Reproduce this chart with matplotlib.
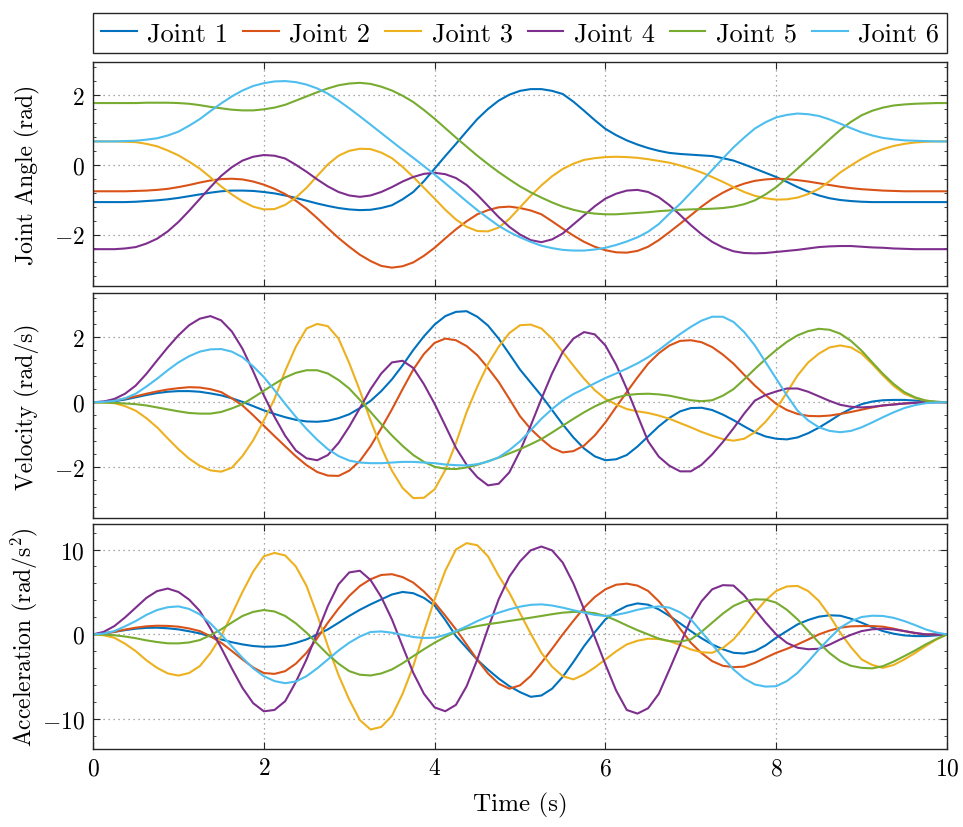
import numpy as np
import matplotlib
matplotlib.use("Agg")
import matplotlib.pyplot as plt
from matplotlib.ticker import AutoMinorLocator, MultipleLocator

# MATLAB default line colours
COLORS = ["#0072BD", "#D95319", "#EDB120", "#7E2F8E", "#77AC30", "#4DBEEE"]
JOINTS = ["Joint 1", "Joint 2", "Joint 3", "Joint 4", "Joint 5", "Joint 6"]

# sample times (s), read every 0.125 s
time = np.linspace(0, 10, 81)

# joint angle (rad), one row per second
angle_j1 = [-1.07, -1.07, -1.07, -1.07, -1.06, -1.04, -1.02, -.99,
            -.95, -.90, -.85, -.80, -.76, -.74, -.74, -.75,
            -.78, -.82, -.88, -.95, -1.03, -1.11, -1.18, -1.24,
            -1.28, -1.30, -1.29, -1.24, -1.16, -.99, -.78, -.47,
            -.11, .25, .60, .96, 1.31, 1.60, 1.84, 2.01,
            2.12, 2.17, 2.17, 2.12, 2.03, 1.81, 1.55, 1.28,
            1.03, .85, .70, .58, .48, .40, .34, .31,
            .29, .27, .25, .19, .12, .01, -.11, -.23,
            -.35, -.49, -.64, -.77, -.88, -.96, -1.01, -1.04,
            -1.06, -1.07, -1.07, -1.07, -1.07, -1.07, -1.07, -1.07,
            -1.07]
angle_j2 = [-.76, -.76, -.76, -.76, -.75, -.74, -.72, -.69,
            -.64, -.58, -.51, -.45, -.41, -.40, -.42, -.48,
            -.57, -.69, -.84, -1.03, -1.26, -1.53, -1.82, -2.10,
            -2.35, -2.58, -2.76, -2.90, -2.95, -2.91, -2.80, -2.61,
            -2.38, -2.11, -1.85, -1.62, -1.42, -1.30, -1.22, -1.20,
            -1.24, -1.31, -1.42, -1.62, -1.83, -2.03, -2.21, -2.35,
            -2.45, -2.51, -2.52, -2.47, -2.35, -2.16, -1.93, -1.69,
            -1.45, -1.20, -.98, -.80, -.65, -.54, -.46, -.42,
            -.40, -.41, -.44, -.48, -.53, -.58, -.63, -.67,
            -.70, -.72, -.74, -.75, -.76, -.76, -.76, -.76,
            -.76]
angle_j3 = [.67, .67, .67, .66, .65, .60, .53, .41,
            .27, .09, -.11, -.36, -.62, -.85, -1.05, -1.20,
            -1.28, -1.27, -1.15, -.94, -.66, -.32, .01, .26,
            .40, .46, .45, .35, .19, -.06, -.35, -.66,
            -.97, -1.29, -1.57, -1.78, -1.90, -1.91, -1.80, -1.55,
            -1.22, -.89, -.59, -.33, -.12, .03, .14, .19,
            .22, .23, .22, .20, .16, .11, .06, -.02,
            -.11, -.22, -.35, -.49, -.64, -.78, -.89, -.96,
            -1.00, -.99, -.94, -.84, -.69, -.47, -.22, -.02,
            .17, .33, .45, .54, .60, .64, .66, .67,
            .67]
angle_j4 = [-2.42, -2.42, -2.42, -2.40, -2.36, -2.26, -2.12, -1.91,
            -1.64, -1.32, -.98, -.64, -.32, -.07, .12, .23,
            .28, .26, .18, .00, -.20, -.42, -.62, -.78,
            -.88, -.92, -.88, -.78, -.64, -.48, -.35, -.26,
            -.23, -.27, -.38, -.58, -.86, -1.18, -1.50, -1.78,
            -2.00, -2.16, -2.22, -2.14, -1.97, -1.71, -1.45, -1.19,
            -.97, -.83, -.74, -.72, -.78, -.93, -1.16, -1.44,
            -1.73, -1.99, -2.21, -2.37, -2.48, -2.53, -2.54, -2.53,
            -2.50, -2.47, -2.44, -2.40, -2.36, -2.34, -2.33, -2.33,
            -2.35, -2.37, -2.38, -2.40, -2.41, -2.42, -2.42, -2.42,
            -2.42]
angle_j5 = [1.77, 1.77, 1.77, 1.77, 1.77, 1.78, 1.78, 1.78,
            1.77, 1.75, 1.71, 1.66, 1.62, 1.58, 1.56, 1.56,
            1.59, 1.64, 1.72, 1.84, 1.96, 2.08, 2.19, 2.28,
            2.33, 2.35, 2.32, 2.24, 2.13, 1.98, 1.80, 1.57,
            1.32, 1.05, .78, .52, .26, .02, -.21, -.42,
            -.62, -.79, -.94, -1.08, -1.20, -1.29, -1.36, -1.40,
            -1.42, -1.42, -1.40, -1.38, -1.36, -1.33, -1.31, -1.29,
            -1.28, -1.27, -1.26, -1.24, -1.20, -1.13, -1.02, -.85,
            -.64, -.38, -.11, .17, .45, .73, 1.00, 1.23,
            1.42, 1.55, 1.64, 1.70, 1.73, 1.75, 1.76, 1.77,
            1.77]
angle_j6 = [.67, .67, .67, .68, .69, .72, .76, .84,
            .95, 1.12, 1.31, 1.54, 1.76, 1.96, 2.13, 2.26,
            2.34, 2.39, 2.40, 2.37, 2.30, 2.19, 2.04, 1.84,
            1.62, 1.39, 1.15, .91, .67, .43, .20, -.04,
            -.28, -.53, -.79, -1.05, -1.30, -1.53, -1.75, -1.93,
            -2.08, -2.21, -2.32, -2.39, -2.44, -2.46, -2.46, -2.43,
            -2.38, -2.30, -2.20, -2.08, -1.92, -1.70, -1.40, -1.12,
            -.80, -.48, -.15, .18, .50, .78, 1.04, 1.22,
            1.36, 1.43, 1.47, 1.45, 1.40, 1.30, 1.18, 1.05,
            .93, .84, .77, .73, .70, .69, .68, .67,
            .67]

# joint velocity (rad/s), one row per second
vel_j1 = [0, .01, .03, .08, .15, .22, .28, .32,
          .34, .34, .32, .27, .21, .12, .01, -.12,
          -.25, -.36, -.46, -.54, -.59, -.60, -.57, -.49,
          -.37, -.18, .04, .34, .70, 1.13, 1.60, 2.02,
          2.38, 2.64, 2.77, 2.79, 2.62, 2.35, 1.95, 1.48,
          1.00, .60, .20, -.24, -.68, -1.08, -1.42, -1.66,
          -1.78, -1.75, -1.62, -1.36, -1.05, -.74, -.48, -.28,
          -.18, -.17, -.24, -.38, -.55, -.74, -.92, -1.05,
          -1.12, -1.14, -1.08, -.95, -.78, -.58, -.37, -.20,
          -.06, .02, .06, .07, .07, .05, .03, .01,
          0]
vel_j2 = [0, .01, .05, .11, .18, .26, .33, .39,
          .43, .46, .45, .40, .31, .12, -.10, -.40,
          -.72, -1.04, -1.35, -1.66, -1.93, -2.14, -2.25, -2.26,
          -2.10, -1.80, -1.35, -.80, -.22, .40, 1.00, 1.48,
          1.82, 1.95, 1.90, 1.72, 1.44, 1.05, .62, .10,
          -.43, -.82, -1.13, -1.40, -1.54, -1.50, -1.33, -1.02,
          -.62, -.15, .31, .76, 1.18, 1.50, 1.74, 1.88,
          1.90, 1.84, 1.69, 1.46, 1.18, .84, .51, .22,
          -.05, -.24, -.36, -.42, -.43, -.41, -.36, -.30,
          -.23, -.16, -.10, -.07, -.04, -.02, -.01, 0,
          0]
vel_j3 = [0, -.01, -.03, -.12, -.26, -.49, -.77, -1.11,
          -1.44, -1.73, -1.95, -2.09, -2.13, -2.01, -1.65, -1.17,
          -.56, .10, .96, 1.70, 2.26, 2.40, 2.33, 1.95,
          1.20, .35, -.56, -1.38, -2.10, -2.63, -2.94, -2.93,
          -2.67, -2.08, -1.25, -.30, .48, 1.17, 1.70, 2.12,
          2.36, 2.38, 2.26, 1.95, 1.54, 1.12, .72, .37,
          .10, -.07, -.21, -.28, -.33, -.41, -.51, -.64,
          -.77, -.91, -1.03, -1.13, -1.18, -1.12, -.92, -.60,
          -.21, .30, .82, 1.22, 1.49, 1.68, 1.74, 1.68,
          1.49, 1.17, .82, .50, .26, .13, .05, .01,
          0]
vel_j4 = [0, .02, .10, .26, .51, .87, 1.28, 1.68,
          2.05, 2.36, 2.56, 2.64, 2.51, 2.17, 1.64, .95,
          .21, -.45, -1.03, -1.48, -1.72, -1.78, -1.62, -1.25,
          -.75, -.18, .40, .88, 1.22, 1.27, 1.05, .55,
          -.05, -.72, -1.40, -1.92, -2.30, -2.55, -2.50, -2.15,
          -1.50, -.72, .10, .88, 1.54, 1.95, 2.15, 2.08,
          1.74, 1.15, .41, -.40, -1.20, -1.67, -1.95, -2.12,
          -2.12, -1.92, -1.60, -1.22, -.80, -.35, .05, .22,
          .33, .42, .42, .32, .18, .04, -.08, -.14,
          -.16, -.14, -.10, -.07, -.04, -.02, -.01, 0,
          0]
vel_j5 = [0, -.01, -.02, -.04, -.06, -.10, -.16, -.22,
          -.28, -.33, -.35, -.35, -.30, -.19, -.06, .14,
          .35, .56, .76, .90, .98, .98, .88, .68,
          .42, .07, -.30, -.67, -1.02, -1.34, -1.62, -1.83,
          -1.98, -2.04, -2.05, -2.00, -1.92, -1.81, -1.70, -1.57,
          -1.44, -1.29, -1.13, -.93, -.72, -.51, -.31, -.13,
          .02, .14, .22, .25, .26, .24, .20, .13,
          .06, .03, .06, .20, .40, .70, 1.02, 1.32,
          1.60, 1.85, 2.05, 2.18, 2.25, 2.22, 2.10, 1.88,
          1.58, 1.22, .87, .56, .31, .15, .05, .01,
          0]
vel_j6 = [0, .01, .04, .12, .26, .48, .72, .98,
          1.22, 1.41, 1.55, 1.62, 1.63, 1.55, 1.38, 1.10,
          .77, .37, -.05, -.45, -.82, -1.15, -1.44, -1.65,
          -1.79, -1.85, -1.87, -1.87, -1.85, -1.83, -1.83, -1.85,
          -1.87, -1.91, -1.93, -1.94, -1.90, -1.82, -1.69, -1.47,
          -1.20, -.86, -.51, -.21, .05, .25, .41, .58,
          .74, .88, 1.03, 1.19, 1.38, 1.60, 1.85, 2.09,
          2.31, 2.50, 2.62, 2.62, 2.46, 2.15, 1.74, 1.23,
          .72, .21, -.26, -.56, -.77, -.88, -.92, -.88,
          -.77, -.62, -.46, -.31, -.18, -.09, -.03, -.01,
          0]

# joint acceleration (rad/s^2), one row per second
acc_j1 = [0, .12, .30, .50, .67, .77, .79, .72,
          .59, .37, .12, -.25, -.59, -.92, -1.18, -1.37,
          -1.46, -1.43, -1.30, -1.00, -.59, -.02, .59, 1.37,
          2.17, 2.90, 3.54, 4.12, 4.70, 5.00, 4.85, 4.30,
          3.40, 1.70, -.20, -1.60, -3.00, -4.15, -5.20, -6.10,
          -6.80, -7.35, -7.20, -6.40, -5.00, -3.25, -1.38, .25,
          1.77, 2.70, 3.35, 3.65, 3.50, 2.95, 2.17, 1.30,
          .39, -.45, -1.18, -1.75, -2.17, -2.25, -1.97, -1.30,
          -.39, .40, 1.18, 1.70, 2.09, 2.25, 2.20, 1.85,
          1.38, .85, .39, .08, -.12, -.20, -.20, -.12,
          0]
acc_j2 = [0, .10, .30, .57, .79, .95, 1.02, 1.00,
          .91, .70, .39, -.22, -.98, -1.95, -2.95, -3.90,
          -4.55, -4.65, -4.33, -3.45, -2.17, -.45, 1.38, 3.05,
          4.53, 5.70, 6.50, 7.00, 7.09, 6.75, 6.10, 5.05,
          3.74, 2.20, .59, -1.20, -3.00, -4.60, -5.80, -6.40,
          -6.00, -4.90, -3.35, -1.70, 0, 1.60, 3.15, 4.40,
          5.31, 5.85, 5.98, 5.75, 5.12, 3.90, 2.36, .65,
          -.98, -2.20, -3.15, -3.70, -3.86, -3.80, -3.35, -2.75,
          -2.17, -1.70, -1.18, -.60, 0, .45, .79, .95,
          .98, .98, .91, .68, .39, .15, 0, 0,
          0]
acc_j3 = [0, -.10, -.40, -1.10, -1.97, -3.05, -3.94, -4.60,
          -4.85, -4.55, -3.74, -2.20, -.20, 2.35, 5.00, 7.40,
          9.20, 9.60, 9.30, 8.00, 5.71, 2.30, -1.38, -4.80,
          -7.68, -10.10, -11.20, -10.90, -9.60, -7.00, -3.74, .30,
          4.13, 7.50, 10.00, 10.75, 10.50, 9.20, 6.90, 4.90,
          2.50, .10, -2.17, -3.80, -4.92, -5.30, -4.72, -3.90,
          -2.95, -2.00, -1.18, -.75, -.51, -.55, -.79, -1.25,
          -1.77, -2.10, -2.17, -1.60, -.59, .90, 2.56, 4.00,
          5.12, 5.65, 5.71, 5.10, 3.94, 2.20, .20, -1.50,
          -2.95, -3.60, -3.94, -3.60, -2.95, -2.20, -1.38, -.60,
          0]
acc_j4 = [0, .30, .98, 2.00, 3.15, 4.30, 5.10, 5.40,
          5.00, 4.10, 2.76, .70, -1.57, -4.00, -6.30, -8.10,
          -9.06, -8.90, -7.87, -5.60, -2.95, .20, 3.35, 5.90,
          7.30, 7.50, 6.40, 4.40, 1.77, -1.40, -4.53, -7.00,
          -8.60, -9.05, -8.30, -6.10, -2.95, .70, 4.13, 6.80,
          8.60, 9.90, 10.35, 9.90, 8.46, 6.00, 2.95, -.30,
          -3.54, -6.60, -8.90, -9.33, -8.70, -7.00, -4.13, -1.20,
          1.77, 3.90, 5.31, 5.80, 5.75, 4.60, 2.95, 1.40,
          0, -1.00, -1.57, -1.75, -1.69, -1.20, -.59, -.05,
          .39, .60, .67, .58, .39, .18, 0, 0,
          0]
acc_j5 = [0, -.02, -.10, -.25, -.45, -.70, -.90, -1.05,
          -1.06, -.95, -.67, -.10, .59, 1.40, 2.17, 2.65,
          2.87, 2.70, 2.17, 1.30, .20, -1.10, -2.36, -3.45,
          -4.33, -4.75, -4.84, -4.60, -4.13, -3.40, -2.56, -1.75,
          -.98, -.30, .31, .70, .98, 1.20, 1.38, 1.58,
          1.77, 1.97, 2.17, 2.38, 2.56, 2.65, 2.64, 2.50,
          2.17, 1.65, 1.06, .50, 0, -.50, -.79, -.85,
          -.59, .30, 1.38, 2.45, 3.35, 3.90, 4.13, 4.10,
          3.74, 2.90, 1.77, .40, -.98, -2.20, -3.15, -3.70,
          -3.94, -4.00, -3.74, -3.20, -2.56, -1.90, -1.18, -.55,
          0]
acc_j6 = [0, .10, .39, .95, 1.57, 2.30, 2.87, 3.20,
          3.30, 3.00, 2.36, 1.30, 0, -1.40, -2.76, -4.00,
          -4.92, -5.50, -5.75, -5.55, -4.92, -4.00, -2.95, -1.90,
          -.98, -.25, .28, .35, .20, -.05, -.31, -.42,
          -.39, -.05, .39, .95, 1.57, 2.10, 2.56, 2.95,
          3.27, 3.48, 3.54, 3.40, 3.15, 2.85, 2.56, 2.30,
          2.17, 2.30, 2.56, 2.90, 3.15, 3.30, 3.15, 2.60,
          1.77, .30, -1.18, -2.70, -4.13, -5.20, -5.90, -6.15,
          -6.10, -5.50, -4.53, -3.20, -1.77, -.45, .79, 1.55,
          2.05, 2.20, 2.17, 1.95, 1.57, 1.10, .59, .22,
          0]

angles = [angle_j1, angle_j2, angle_j3, angle_j4, angle_j5, angle_j6]
velocities = [vel_j1, vel_j2, vel_j3, vel_j4, vel_j5, vel_j6]
accelerations = [acc_j1, acc_j2, acc_j3, acc_j4, acc_j5, acc_j6]

INK = "#262626"
GRID = "#8c8c8c"
FS = 17

plt.rcParams.update({
    "font.family": "cmr10",
    "mathtext.fontset": "cm",
    "axes.formatter.use_mathtext": True,
    "font.size": FS,
    "axes.edgecolor": INK,
    "axes.linewidth": 1.0,
    "xtick.direction": "in",
    "ytick.direction": "in",
    "xtick.top": True,
    "ytick.right": True,
    "xtick.major.size": 5,
    "ytick.major.size": 5,
    "ytick.minor.size": 2.5,
    "xtick.color": INK,
    "ytick.color": INK,
    "xtick.labelcolor": "black",
    "ytick.labelcolor": "black",
})

fig = plt.figure(figsize=(9.63, 8.28), dpi=100)
left, width = 0.0966, 0.8868
ax_ang = fig.add_axes([left, 0.6528, width, 0.2708])
ax_vel = fig.add_axes([left, 0.3736, width, 0.2714])
ax_acc = fig.add_axes([left, 0.0942, width, 0.2717])

panels = [
    (ax_ang, angles, "Joint Angle (rad)", (-3.49, 2.94), 2),
    (ax_vel, velocities, "Velocity (rad/s)", (-3.54, 3.35), 2),
    (ax_acc, accelerations, r"Acceleration (rad/s$^2$)", (-13.5, 13.0), 10),
]

for ax, series, ylabel, ylim, step in panels:
    for vals, color, name in zip(series, COLORS, JOINTS):
        ax.plot(time, vals, color=color, lw=1.5, label=name, solid_joinstyle="round")
    ax.set_xlim(0, 10)
    ax.set_ylim(*ylim)
    ax.xaxis.set_major_locator(MultipleLocator(2))
    ax.yaxis.set_major_locator(MultipleLocator(step))
    ax.yaxis.set_minor_locator(AutoMinorLocator(5))
    ax.grid(True, which="major", color=GRID, linestyle=(0, (1, 3)), linewidth=0.9)
    ax.set_ylabel(ylabel, fontsize=FS)
    ax.yaxis.set_label_coords(-0.062, 0.5)
    ax.tick_params(axis="both", which="major", labelsize=FS, pad=6)
    if ax is not ax_acc:
        ax.tick_params(axis="x", labelbottom=False)

ax_acc.set_xlabel("Time (s)", fontsize=18, labelpad=9)

handles, labels = ax_ang.get_legend_handles_labels()
fig.legend(handles, labels, loc="lower left", ncol=6, mode="expand",
           bbox_to_anchor=(left, 1 - 54 / 828, width, 45 / 828), borderaxespad=0,
           fontsize=19, frameon=True, fancybox=False, edgecolor=INK, framealpha=1,
           handlelength=1.35, handletextpad=0.4, columnspacing=0.5, borderpad=0.3)

fig.savefig("out.png", dpi=100)
